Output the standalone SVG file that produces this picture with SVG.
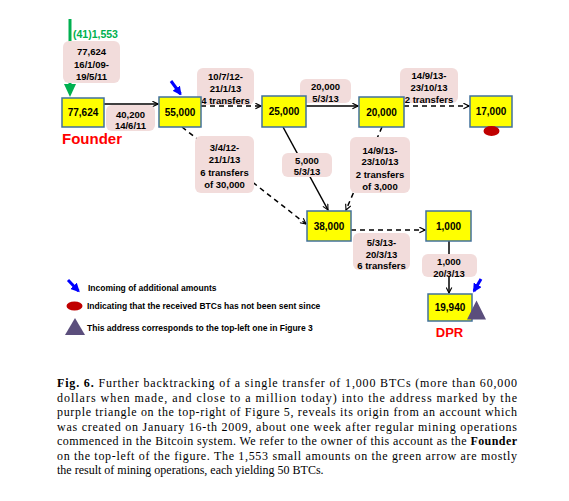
<svg xmlns="http://www.w3.org/2000/svg" width="569" height="501" viewBox="0 0 569 501">
<defs>
<style>
.node rect{fill:#ffff00;stroke:#41719c;stroke-width:1.5}
.node text{font-family:"Liberation Sans",Arial,sans-serif;font-weight:bold;font-size:10px;fill:#000;text-anchor:middle}
.lbl rect{fill:#f2dcdb}
.lbl text{font-family:"Liberation Sans",Arial,sans-serif;font-weight:bold;font-size:9.5px;fill:#000;text-anchor:middle}
.c{stroke:#000;stroke-width:1.5;fill:none;marker-end:url(#ah)}
.d{stroke-dasharray:5 4}
.blue{stroke:#0000ff;stroke-width:3;fill:none;marker-end:url(#bh)}
.leg{font-family:"Liberation Sans",Arial,sans-serif;font-weight:bold;font-size:8.5px;fill:#000}
.cap{font-family:"Liberation Serif","Times New Roman",serif;font-size:12px;fill:#000}
</style>
<marker id="ah" viewBox="0 0 10 10" refX="9" refY="5" markerWidth="7" markerHeight="7" markerUnits="userSpaceOnUse" orient="auto">
<path d="M1,1 L9,5 L1,9" fill="none" stroke="#000" stroke-width="1.6"/>
</marker>
<marker id="bh" viewBox="0 0 10 10" refX="8" refY="5" markerWidth="3" markerHeight="3" orient="auto">
<path d="M0,0 L10,5 L0,10 Z" fill="#0000ff"/>
</marker>
</defs>
<rect width="569" height="501" fill="#fff"/>

<g id="connectors">
<line class="c" x1="104" y1="104" x2="158" y2="104"/>
<line class="c d" x1="201" y1="106" x2="261" y2="106"/>
<line class="c" x1="306" y1="106" x2="358" y2="106"/>
<line class="c d" x1="404" y1="106" x2="469" y2="106"/>
<line class="c d" x1="182" y1="127" x2="306" y2="224"/>
<line class="c" x1="283" y1="127" x2="328" y2="210"/>
<line class="c d" x1="382" y1="127" x2="346" y2="210"/>
<line class="c d" x1="351" y1="230" x2="425" y2="230"/>
<line class="c" x1="449" y1="241" x2="449" y2="293"/>
</g>

<g id="green-arrow">
<line x1="70" y1="19" x2="70" y2="86" stroke="#00b050" stroke-width="3"/>
<polygon points="64,84 76,84 70,97" fill="#00b050"/>
<text x="73" y="38" font-family="Liberation Sans,Arial,sans-serif" font-weight="bold" font-size="10.5" fill="#00b050">(41)1,553</text>
</g>

<g id="labels" class="lbl">
<g id="lbl-founder-in"><rect x="63" y="41" width="57" height="42" rx="6"/><text x="91.5" y="55">77,624</text><text x="91.5" y="67.5">16/1/09-</text><text x="91.5" y="79.5">19/5/11</text></g>
<g id="lbl-40200"><rect x="106" y="105" width="49" height="26" rx="6"/><text x="130.5" y="117.5">40,200</text><text x="130.5" y="129">14/6/11</text></g>
<g id="lbl-4transfers"><rect x="197" y="68" width="57" height="37" rx="6"/><text x="225.5" y="79.5">10/7/12-</text><text x="225.5" y="91.5">21/1/13</text><text x="225.5" y="103.5">4 transfers</text></g>
<g id="lbl-20000"><rect x="300" y="79" width="51" height="24" rx="6"/><text x="325.5" y="90">20,000</text><text x="325.5" y="102">5/3/13</text></g>
<g id="lbl-6transfers"><rect x="195" y="136" width="59" height="57" rx="6"/><text x="224.5" y="151">3/4/12-</text><text x="224.5" y="163">21/1/13</text><text x="224.5" y="176">6 transfers</text><text x="224.5" y="188">of 30,000</text></g>
<g id="lbl-5000"><rect x="282" y="153" width="50" height="24" rx="6"/><text x="307" y="163.5">5,000</text><text x="307" y="175">5/3/13</text></g>
<g id="lbl-3000"><rect x="350" y="137" width="60" height="56" rx="6"/><text x="380" y="153.5">14/9/13-</text><text x="380" y="165">23/10/13</text><text x="380" y="177.5">2 transfers</text><text x="380" y="189.5">of 3,000</text></g>
<g id="lbl-2transfers"><rect x="400" y="68" width="58" height="35" rx="6"/><text x="429" y="79">14/9/13-</text><text x="429" y="91">23/10/13</text><text x="429" y="102.5">2 transfers</text></g>
<g id="lbl-6transfers-b"><rect x="353" y="233" width="57" height="37" rx="6"/><text x="381.5" y="246">5/3/13-</text><text x="381.5" y="257.5">20/3/13</text><text x="381.5" y="269">6 transfers</text></g>
<g id="lbl-1000"><rect x="422" y="254" width="55" height="23" rx="6"/><text x="449" y="265">1,000</text><text x="449" y="276.5">20/3/13</text></g>
</g>

<g id="n-founder" class="node"><rect x="62" y="98" width="42" height="29"/><text x="83" y="116">77,624</text>
<text x="92" y="144" style="font-size:15px;fill:#ff0000">Founder</text></g>
<g id="n-55000" class="node"><rect x="159" y="97" width="42" height="30"/><text x="180" y="115.5">55,000</text></g>
<g id="n-25000" class="node"><rect x="262" y="96" width="44" height="31"/><text x="284" y="115">25,000</text></g>
<g id="n-20000" class="node"><rect x="359" y="97" width="45" height="30"/><text x="381.5" y="115.5">20,000</text></g>
<g id="n-17000" class="node"><rect x="470" y="96" width="42" height="31"/><text x="491" y="115">17,000</text>
<ellipse cx="491.5" cy="131" rx="8" ry="5" fill="#c00000"/></g>
<g id="n-38000" class="node"><rect x="307" y="211" width="44" height="30"/><text x="329" y="229.5">38,000</text></g>
<g id="n-1000" class="node"><rect x="426" y="211" width="45" height="30"/><text x="448.5" y="229.5">1,000</text></g>
<g id="n-19940" class="node"><rect x="428" y="294" width="44" height="27"/><text x="450" y="311">19,940</text>
<polygon points="467,319.5 486,319.5 476.5,300.5" fill="#5b4e7c"/>
<text x="449.5" y="337" style="font-size:13px;fill:#ff0000">DPR</text></g>

<g id="blue-arrows">
<line class="blue" x1="171" y1="81" x2="180.5" y2="94"/>
<line class="blue" x1="481" y1="279" x2="474" y2="291"/>
</g>

<g id="legend">
<line class="blue" x1="68" y1="280" x2="78.5" y2="291"/>
<text class="leg" x="88" y="291">Incoming of additional amounts</text>
<ellipse cx="74.5" cy="306" rx="8" ry="4.5" fill="#c00000"/>
<text class="leg" x="87" y="309">Indicating that the received BTCs has not been sent since</text>
<polygon points="65,335 85,335 75,318" fill="#5b4e7c"/>
<text class="leg" x="87" y="330.5">This address corresponds to the top-left one in Figure 3</text>
</g>

<g id="caption">
<text class="cap" x="57" y="387" textLength="460" lengthAdjust="spacing"><tspan font-weight="bold">Fig. 6.</tspan> Further backtracking of a single transfer of 1,000 BTCs (more than 60,000</text>
<text class="cap" x="57" y="401.5" textLength="460" lengthAdjust="spacing">dollars when made, and close to a million today) into the address marked by the</text>
<text class="cap" x="57" y="416" textLength="460" lengthAdjust="spacing">purple triangle on the top-right of Figure 5, reveals its origin from an account which</text>
<text class="cap" x="57" y="430.5" textLength="460" lengthAdjust="spacing">was created on January 16-th 2009, about one week after regular mining operations</text>
<text class="cap" x="57" y="445" textLength="460" lengthAdjust="spacing">commenced in the Bitcoin system. We refer to the owner of this account as the <tspan font-weight="bold">Founder</tspan></text>
<text class="cap" x="57" y="459.5" textLength="460" lengthAdjust="spacing">on the top-left of the figure. The 1,553 small amounts on the green arrow are mostly</text>
<text class="cap" x="57" y="474">the result of mining operations, each yielding 50 BTCs.</text>
</g>
</svg>
